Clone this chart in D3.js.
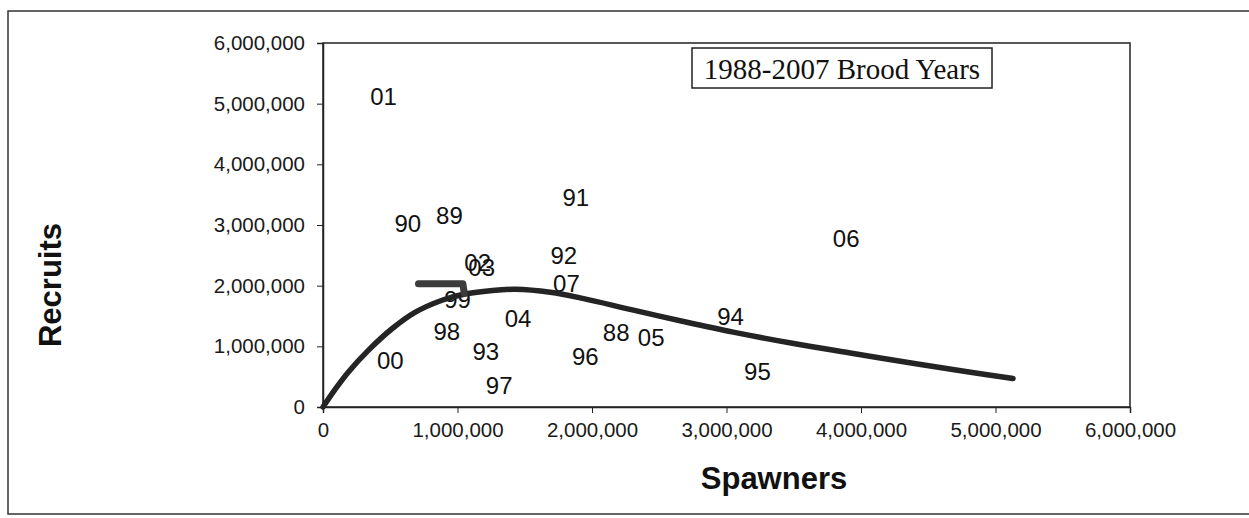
<!DOCTYPE html>
<html>
<head>
<meta charset="utf-8">
<script src="https://cdn.jsdelivr.net/npm/d3@7"></script>
<style>
    body { margin: 0; background: #fff; }
    svg { display: block; }
    .tick text { font-family: "Liberation Sans", Arial, sans-serif; font-size: 20.5px; fill: #1a1a1a; }
    .tick line, .domain { stroke: #222; }
</style>
</head>
<body>
<svg id="chart"></svg>
<script>
// brood years and their spawners / recruits
var years = ['88', '89', '90', '91', '92', '93', '94', '95', '96', '97',
             '98', '99', '00', '01', '02', '03', '04', '05', '06', '07'];
var spawners = [2180000, 940000, 630000, 1880000, 1790000, 1210000, 3030000, 3230000, 1950000, 1310000,
                920000, 1000000, 500000, 450000, 1150000, 1180000, 1450000, 2440000, 3890000, 1810000];
var recruits = [1230000, 3160000, 3020000, 3450000, 2490000, 910000, 1500000, 580000, 830000, 360000,
                1250000, 1780000, 770000, 5110000, 2380000, 2300000, 1460000, 1150000, 2770000, 2030000];

// fitted curve
var curveSpawners = [0, 90000, 186000, 335000, 513000, 684000, 885000, 1030000, 1260000, 1430000, 1690000,
                     1930000, 2300000, 2680000, 3050000, 3490000, 3920000, 4420000, 4790000, 5130000];
var curveRecruits = [0, 290000, 570000, 930000, 1290000, 1560000, 1760000, 1850000, 1920000, 1940000, 1890000,
                     1790000, 1600000, 1410000, 1235000, 1050000, 890000, 710000, 580000, 470000];

// short thick marker line
var markSpawners = [710000, 1040000, 1050000];
var markRecruits = [2030000, 2030000, 1880000];

var xTicks = [0, 1000000, 2000000, 3000000, 4000000, 5000000, 6000000];
var yTicks = [0, 1000000, 2000000, 3000000, 4000000, 5000000, 6000000];
var legendText = '1988-2007 Brood Years';

function drawChart(selector) {
    var svgWidth = 1249,
        svgHeight = 518;
    var plot = {left: 323, right: 1130, top: 43, bottom: 407};
    var svg = d3.select(selector)
        .attr('width', svgWidth)
        .attr('height', svgHeight);

    // 外框
    svg.append('rect')
        .attr('x', 8).attr('y', 11)
        .attr('width', 1300).attr('height', 503)
        .attr('fill', 'none')
        .attr('stroke', '#333')
        .attr('stroke-width', 1.5);

    var x = d3.scaleLinear().domain([0, 6000000]).range([plot.left, plot.right]);
    var y = d3.scaleLinear().domain([0, 6000000]).range([plot.bottom, plot.top]);

    // plot area border
    svg.append('rect')
        .attr('x', plot.left).attr('y', plot.top)
        .attr('width', plot.right - plot.left)
        .attr('height', plot.bottom - plot.top)
        .attr('fill', 'none')
        .attr('stroke', '#222')
        .attr('stroke-width', 1.5);

    // x轴
    var xAxis = d3.axisBottom(x)
        .tickValues(xTicks)
        .tickSize(6)
        .tickPadding(9)
        .tickFormat(d3.format(','));
    svg.append('g')
        .attr('transform', 'translate(0,' + plot.bottom + ')')
        .call(xAxis)
        .call(function(g) { g.select('.domain').attr('stroke-width', 1.5); });

    // y轴
    var yAxis = d3.axisLeft(y)
        .tickValues(yTicks)
        .tickSize(6)
        .tickPadding(12)
        .tickFormat(d3.format(','));
    svg.append('g')
        .attr('transform', 'translate(' + plot.left + ',0)')
        .call(yAxis)
        .call(function(g) { g.select('.domain').attr('stroke-width', 1.5); });

    // 年份标签
    svg.selectAll('.year')
        .data(years)
        .enter()
        .append('text')
        .attr('class', 'year')
        .attr('x', function(d, i) { return x(spawners[i]); })
        .attr('y', function(d, i) { return y(recruits[i]); })
        .attr('text-anchor', 'middle')
        .attr('dominant-baseline', 'central')
        .style('font-family', '"Liberation Sans", Arial, sans-serif')
        .style('font-size', '24px')
        .style('fill', '#111')
        .text(function(d) { return d; });

    // 曲线
    var line = d3.line()
        .x(function(d) { return x(d[0]); })
        .y(function(d) { return y(d[1]); })
        .curve(d3.curveCatmullRom);
    svg.append('path')
        .attr('d', line(d3.zip(curveSpawners, curveRecruits)))
        .attr('fill', 'none')
        .attr('stroke', '#242424')
        .attr('stroke-width', 5.5)
        .attr('stroke-linecap', 'round');

    svg.append('path')
        .attr('d', d3.line().x(function(d) { return x(d[0]); }).y(function(d) { return y(d[1]); })(d3.zip(markSpawners, markRecruits)))
        .attr('fill', 'none')
        .attr('stroke', '#3c3c3c')
        .attr('stroke-width', 7)
        .attr('stroke-linecap', 'round')
        .attr('stroke-linejoin', 'round');

    // 图例
    var legend = svg.append('g').attr('transform', 'translate(692,48)');
    legend.append('rect')
        .attr('width', 300).attr('height', 40)
        .attr('fill', '#fff')
        .attr('stroke', '#222')
        .attr('stroke-width', 1.5);
    legend.append('text')
        .attr('x', 150).attr('y', 31)
        .attr('text-anchor', 'middle')
        .style('font-family', '"Liberation Serif", "Times New Roman", serif')
        .style('font-size', '29px')
        .style('fill', '#111')
        .text(legendText);

    // 轴标题
    svg.append('text')
        .attr('transform', 'translate(61,285) rotate(-90)')
        .attr('text-anchor', 'middle')
        .style('font-family', '"Liberation Sans", Arial, sans-serif')
        .style('font-size', '31px')
        .style('font-weight', 'bold')
        .style('fill', '#111')
        .text('Recruits');
    svg.append('text')
        .attr('x', 774).attr('y', 489)
        .attr('text-anchor', 'middle')
        .style('font-family', '"Liberation Sans", Arial, sans-serif')
        .style('font-size', '31px')
        .style('font-weight', 'bold')
        .style('fill', '#111')
        .text('Spawners');
}
drawChart('#chart');
</script>
</body>
</html>
